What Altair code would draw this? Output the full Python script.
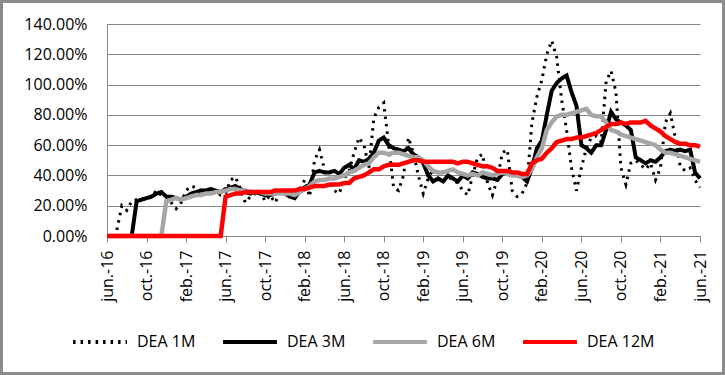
import json
import altair as alt
import pandas as pd

# ---------------- data ----------------
tick_labels = ["jun.-16", "oct.-16", "feb.-17", "jun.-17", "oct.-17", "feb.-18",
               "jun.-18", "oct.-18", "feb.-19", "jun.-19", "oct.-19", "feb.-20",
               "jun.-20", "oct.-20", "feb.-21", "jun.-21"]

# months since jun-16, half-month steps
months = [i / 2 for i in range(121)]

series_names = ["DEA 1M", "DEA 3M", "DEA 6M", "DEA 12M"]

dea_1m = [None, None, 4, 20, 17, 23, 24, 25, 24, 26,
          30, 27, 26, 22, 18, 22, 30, 33, 32, 30,
          31, 29, 30, 27, 28, 37, 39, 31, 22, 26,
          28, 30, 23, 27, 22, 28, 30, 27, 25, 30,
          37, 26, 50, 57, 44, 36, 30, 28, 38, 43,
          55, 65, 60, 45, 78, 85, 88, 60, 32, 30,
          40, 65, 55, 40, 28, 38, 44, 38, 36, 39,
          37, 35, 30, 27, 40, 52, 54, 35, 27, 38,
          55, 57, 30, 26, 28, 35, 75, 92, 103, 120,
          129, 118, 90, 70, 45, 30, 45, 58, 65, 66,
          62, 102, 109, 95, 45, 34, 48, 50, 47, 44,
          48, 37, 45, 75, 81, 65, 46, 43, 45, 37,
          32]

dea_3m = [0, 0, 0, 0, 0, 0, 23, 24, 25, 26,
          28, 29, 26, 26, 25, 24, 26, 28, 29, 30,
          30, 31, 30, 29, 31, 32, 33, 31, 29, 28,
          29, 28, 27, 27, 28, 29, 28, 26, 25, 30,
          32, 34, 42, 43, 42, 42, 43, 41, 45, 47,
          44, 50, 49, 51, 55, 63, 65, 60, 58, 57,
          56, 58, 54, 52, 48, 40, 36, 38, 36, 40,
          38, 36, 40, 38, 42, 41, 39, 38, 38, 37,
          41, 42, 41, 40, 39, 36, 45, 58, 63, 80,
          96, 101, 104, 106, 95, 86, 60, 58, 55, 60,
          60, 70, 82, 77, 75, 73, 70, 52, 50, 48,
          50, 49, 52, 56, 57, 56, 57, 56, 57, 42,
          38]

dea_6m = [0, 0, 0, 0, 0, 0, 0, 0, 0, 0,
          0, 0, 23, 24, 25, 24, 25, 26, 27, 27,
          28, 28, 29, 29, 30, 31, 31, 30, 30, 29,
          29, 29, 28, 28, 28, 28, 28, 28, 27, 29,
          31, 33, 36, 37, 37, 38, 38, 39, 40, 42,
          43, 45, 47, 48, 52, 55, 55, 54, 55, 55,
          54, 53, 52, 52, 50, 46, 43, 42, 42, 43,
          44, 42, 41, 40, 41, 40, 42, 41, 40, 41,
          42, 41, 40, 40, 39, 40, 44, 52, 58, 70,
          75, 79, 80, 80, 81, 82, 83, 84, 80, 79,
          79, 75, 70, 69, 67, 66, 65, 64, 63, 62,
          61, 60, 57, 55, 55, 54, 53, 52, 51, 50,
          49]

dea_12m = [0, 0, 0, 0, 0, 0, 0, 0, 0, 0,
           0, 0, 0, 0, 0, 0, 0, 0, 0, 0,
           0, 0, 0, 0, 26, 27, 28, 28, 29, 29,
           29, 29, 29, 29, 30, 30, 30, 30, 30, 31,
           31, 32, 33, 33, 33, 34, 34, 34, 35, 35,
           38, 39, 40, 42, 44, 44, 46, 47, 47, 47,
           48, 49, 50, 50, 49, 49, 49, 49, 49, 49,
           49, 48, 49, 49, 48, 47, 46, 46, 45, 43,
           43, 43, 42, 42, 41, 41, 48, 50, 51, 55,
           58, 62, 63, 64, 64, 65, 65, 66, 67, 68,
           70, 72, 74, 74, 75, 74, 75, 75, 75, 76,
           73, 71, 69, 66, 64, 62, 61, 61, 60, 60,
           59]

series_colors = ["#000000", "#000000", "#a6a6a6", "#ff0000"]
series_dashes = [[2.5, 5], [1, 0], [1, 0], [1, 0]]
series_widths = [3, 4, 4.5, 4.5]

rows = []
for name, vals in zip(series_names, [dea_1m, dea_3m, dea_6m, dea_12m]):
    for m, v in zip(months, vals):
        if v is not None:
            rows.append({"series": name, "month": m, "value": v})
df = pd.DataFrame(rows)

# ---------------- chart ----------------
FONT = "Open Sans"
GRAY = "#868686"

label_expr = json.dumps(tick_labels) + "[round(datum.value / 4)]"

x_enc = alt.X(
    "month:Q",
    scale=alt.Scale(domain=[0, 60], nice=False, zero=False),
    axis=alt.Axis(values=list(range(0, 61, 4)), labelExpr=label_expr,
                  labelAngle=-90, grid=False, title=None, tickSize=6,
                  labelPadding=8, domainColor=GRAY, tickColor=GRAY),
)
y_enc = alt.Y(
    "value:Q",
    scale=alt.Scale(domain=[0, 140], nice=False),
    axis=alt.Axis(values=list(range(0, 141, 20)),
                  labelExpr="format(datum.value, '.2f') + '%'",
                  ticks=False, labelPadding=20, title=None, grid=True,
                  gridColor=GRAY, domainColor=GRAY),
)

legend = alt.Legend(orient="none", legendX=-36, legendY=289,
                    direction="horizontal", title=None, symbolType="stroke",
                    symbolSize=2900, symbolStrokeWidth=4, labelFontSize=16,
                    labelFont=FONT, labelColor="#000000", columnPadding=19,
                    labelOffset=8)

color_enc = alt.Color("series:N",
                      scale=alt.Scale(domain=series_names, range=series_colors),
                      legend=legend)
dash_enc = alt.StrokeDash("series:N",
                          scale=alt.Scale(domain=series_names, range=series_dashes),
                          legend=legend)

base = alt.Chart(df)
layers = []
for name, sw in zip(series_names, series_widths):
    layers.append(
        base.transform_filter(alt.datum.series == name)
        .mark_line(strokeWidth=sw)
        .encode(x=x_enc, y=y_enc, color=color_enc, strokeDash=dash_enc)
    )

frame = alt.Chart(alt.Data(values=[{"a": 1}])).mark_rect(
    fillOpacity=0, stroke="#8c8c8c", strokeWidth=3
).encode(x=alt.value(-105.5), x2=alt.value(616.5),
         y=alt.value(-22.5), y2=alt.value(349.5))

chart = alt.layer(*layers, frame).properties(
    width=593, height=212,
    autosize=alt.AutoSizeParams(type="none"),
    padding={"left": 107, "top": 24, "right": 25, "bottom": 139},
    background="#ffffff",
).configure_view(stroke=None).configure_axis(
    labelFont=FONT, labelFontSize=16, labelColor="#000000"
)

chart.save("out.html", embed_options={"renderer": "svg", "actions": False})
